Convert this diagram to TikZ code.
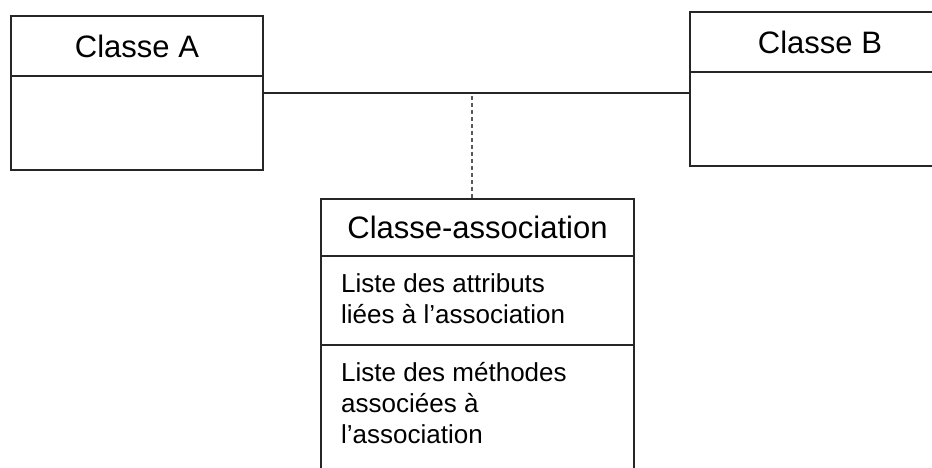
\documentclass[tikz,border=0pt]{standalone}
\usepackage{fontspec}
\setmainfont{Liberation Sans}
\usetikzlibrary{positioning}
\newcommand{\titlefont}{\fontsize{31}{36}\selectfont}
\newcommand{\listfont}{\fontsize{26}{31}\selectfont}

\begin{document}
\begin{tikzpicture}[x=1pt,y=-1pt,
    box/.style={draw=black!85, line width=1.2pt, rectangle, inner sep=0pt, outer sep=0pt},
    listtext/.style={anchor=north west, inner sep=0pt, align=left, font=\listfont}]
        \useasboundingbox (0,0) rectangle (932,468);

        \node (atitle) at (137,46) [box, minimum width=252, minimum height=60, font=\titlefont] {Classe A};
        \node (abody) [box, below=0pt of atitle, minimum width=252, minimum height=94] {};

        \node (btitle) at (820,42) [box, minimum width=260, minimum height=60, font=\titlefont] {Classe B};
        \node (bbody) [box, below=0pt of btitle, minimum width=260, minimum height=94] {};

        \node (ctitle) at (477.5,227.5) [box, minimum width=313, minimum height=57, font=\titlefont] {Classe-association};
        \node (cattr) [box, below=0pt of ctitle, minimum width=313, minimum height=89] {};
        \node (cmeth) [box, below=0pt of cattr, minimum width=313, minimum height=140] {};

        \node (attrtext) at (341,273) [listtext] {Liste des attributs\\li\'ees \`a l'association};
        \node (methtext) at (341,362) [listtext] {Liste des m\'ethodes\\associ\'ees \`a\\l'association};

        \coordinate (mid) at (472,93);
        \draw[line width=1.2pt, black!85] (abody.east |- mid) -- (bbody.west |- mid);
        \draw[line width=1.2pt, black!65, dash pattern=on 4pt off 3pt] (mid) ++(0,3) -- (ctitle.north -| mid);
      \end{tikzpicture}
\end{document}
